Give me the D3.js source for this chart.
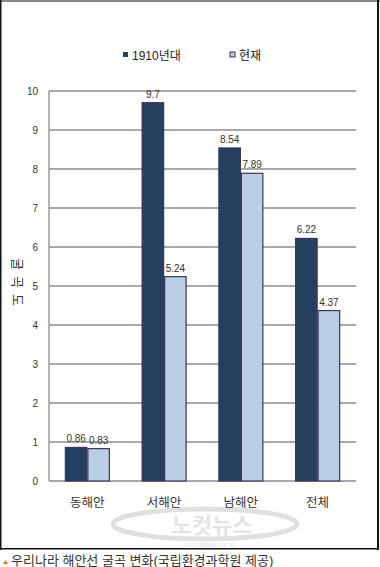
<!DOCTYPE html>
<html>
<head>
<meta charset="utf-8">
<script src="https://cdn.jsdelivr.net/npm/d3@7"></script>
<style>
body { margin: 0; background: #fff; }
svg { display: block; font-family: Arial, "Liberation Sans", "Noto Sans CJK KR", sans-serif; }
</style>
</head>
<body>
<div id="chart"></div>
<script>
// data
var categories = ["동해안", "서해안", "남해안", "전체"];
var series = ["1910년대", "현재"];
var then = [0.86, 9.7, 8.54, 6.22];
var now = [0.83, 5.24, 7.89, 4.37];
var yTicks = [0, 1, 2, 3, 4, 5, 6, 7, 8, 9, 10];
var yTitle = ["굴", "곡", "도"];

var colors = ["#253f61", "#b9cde5"];

var W = 380, H = 567;
var svg = d3.select("#chart").append("svg")
	.attr("width", W)
	.attr("height", H)

// frame
svg.append("rect").attr("x", 0).attr("y", 0).attr("width", W).attr("height", 2).attr("fill", "#8a8a8a")
svg.append("rect").attr("x", 0).attr("y", 0).attr("width", 1.5).attr("height", 550).attr("fill", "#111")
svg.append("rect").attr("x", 377).attr("y", 0).attr("width", 2).attr("height", 550).attr("fill", "#111")
svg.append("rect").attr("x", 0).attr("y", 548).attr("width", 379).attr("height", 1.5).attr("fill", "#111")

// scales
var x = d3.scaleBand()
	.domain(categories)
	.range([49, 356])

var x1 = d3.scaleBand()
	.domain(series)
	.range([x.bandwidth()/2 - 22.5, x.bandwidth()/2 + 22.5])

var y = d3.scaleLinear()
	.domain([0, 10])
	.range([481, 91])

// grid
svg.append("g")
	.selectAll("line")
	.data(yTicks)
	.enter().append("line")
	.attr("x1", 49).attr("x2", 356)
	.attr("y1", function(d) { return y(d); })
	.attr("y2", function(d) { return y(d); })
	.attr("stroke", "#8c8c8c")
	.attr("stroke-width", 1.3)

svg.append("line")
	.attr("x1", 49).attr("x2", 49)
	.attr("y1", y(10)).attr("y2", y(0))
	.attr("stroke", "#8c8c8c")
	.attr("stroke-width", 1.3)

// y tick labels
svg.append("g")
	.selectAll("text")
	.data(yTicks)
	.enter().append("text")
	.attr("x", 38)
	.attr("y", function(d) { return y(d) + 3.5; })
	.attr("text-anchor", "end")
	.attr("font-size", 10)
	.attr("fill", "#333")
	.text(function(d) { return d; })

// y title, one glyph at a time, turned sideways
svg.append("g")
	.selectAll("text")
	.data(yTitle)
	.enter().append("text")
	.attr("transform", function(d, i) { return "translate(18," + (264 + i * 18) + ") rotate(90)"; })
	.attr("text-anchor", "middle")
	.attr("dy", "0.35em")
	.attr("font-size", 13)
	.attr("fill", "#333")
	.text(function(d) { return d; })

// watermark
var wm = svg.append("g").attr("opacity", 0.55)
wm.append("ellipse")
	.attr("cx", 205).attr("cy", 524).attr("rx", 92).attr("ry", 15)
	.attr("fill", "none").attr("stroke", "#c8c8c8").attr("stroke-width", 5)
wm.append("text")
	.attr("x", 212).attr("y", 533)
	.attr("text-anchor", "middle")
	.attr("font-size", 22).attr("font-weight", "bold")
	.attr("fill", "#cfcfcf")
	.text("노컷뉴스")
wm.append("text")
	.attr("x", 210).attr("y", 546.5)
	.attr("text-anchor", "middle")
	.attr("font-size", 7)
	.attr("fill", "#c8c8c8")
	.text("nocutnews.co.kr")

// bars
var rows = categories.map(function(c, i) {
	return { cat: c, vals: [{ s: series[0], v: then[i], k: 0 }, { s: series[1], v: now[i], k: 1 }] };
});

var groups = svg.append("g")
	.selectAll("g")
	.data(rows)
	.enter().append("g")
	.attr("transform", function(d) { return "translate(" + x(d.cat) + ",0)"; })

groups.selectAll("rect")
	.data(function(d) { return d.vals; })
	.enter().append("rect")
	.attr("x", function(d) { return x1(d.s) + 0.5; })
	.attr("y", function(d) { return y(d.v); })
	.attr("width", x1.bandwidth() - 1)
	.attr("height", function(d) { return y(0) - y(d.v); })
	.attr("fill", function(d) { return colors[d.k]; })
	.attr("stroke", "#3d3558")
	.attr("stroke-width", 1.2)

groups.selectAll("text")
	.data(function(d) { return d.vals; })
	.enter().append("text")
	.attr("x", function(d) { return x1(d.s) + x1.bandwidth()/2; })
	.attr("y", function(d) { return y(d.v) - 5; })
	.attr("text-anchor", "middle")
	.attr("font-size", 10)
	.attr("fill", "#333")
	.text(function(d) { return d.v; })

// category labels
svg.append("g")
	.selectAll("text")
	.data(categories)
	.enter().append("text")
	.attr("x", function(d) { return x(d) + x.bandwidth()/2; })
	.attr("y", 507)
	.attr("text-anchor", "middle")
	.attr("font-size", 12.5)
	.attr("fill", "#333")
	.text(function(d) { return d; })

// legend
var legX = [123, 230];
var leg = svg.append("g")
	.selectAll("g")
	.data(series)
	.enter().append("g")
	.attr("transform", function(d, i) { return "translate(" + legX[i] + ",52)"; })
leg.append("rect")
	.attr("width", 5).attr("height", 5)
	.attr("fill", function(d, i) { return colors[i]; })
	.attr("stroke", "#3d3558")
	.attr("stroke-width", function(d, i) { return i ? 1 : 0; })
leg.append("text")
	.attr("x", 9).attr("y", 8)
	.attr("font-size", 12)
	.attr("fill", "#222")
	.text(function(d) { return d; })

// caption
svg.append("path")
	.attr("d", "M3,564 L5.5,560 L8,564 Z")
	.attr("fill", "#e07a30")
svg.append("text")
	.attr("x", 11).attr("y", 565)
	.attr("font-size", 13)
	.attr("fill", "#333")
	.text("우리나라 해안선 굴곡 변화(국립환경과학원 제공)")
</script>
</body>
</html>
